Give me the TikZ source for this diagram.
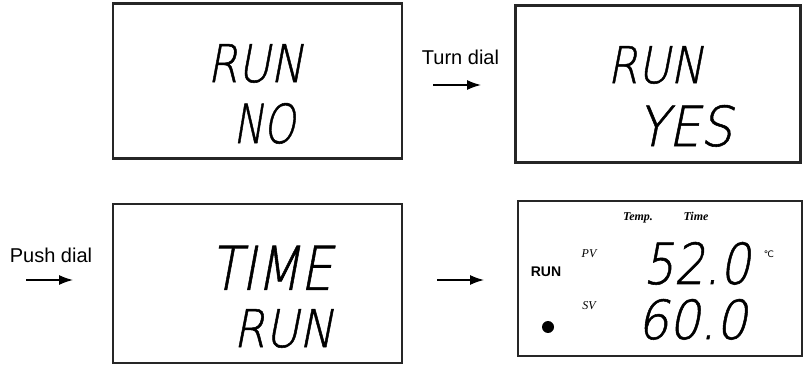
\documentclass[tikz,border=0pt]{standalone}
\usepackage{fontspec}
\usepackage{graphicx}
\usetikzlibrary{arrows.meta}
\setmainfont{Liberation Sans}
\newfontfamily\lcdfont{DejaVu Sans ExtraLight}[FakeSlant=0.22,FakeBold=1]
\newfontfamily\serifit{Liberation Serif}
\newfontfamily\symfont{DejaVu Sans}
\newcommand{\lcd}[3]{\resizebox{#1}{#2}{\lcdfont #3}}
\tikzset{
  lcdbox/.style={draw=black!85, line width=2.4pt, rectangle, inner sep=0pt},
  lab/.style={font=\fontsize{20}{22}\selectfont, inner sep=0pt},
  lcdtxt/.style={inner sep=0pt, anchor=south west},
  flow/.style={line width=1.4pt, -{Latex[length=14pt,width=10pt]}},
  tiny/.style={inner sep=0pt, anchor=base, font=\serifit\bfseries\itshape\fontsize{12}{13}\selectfont},
  tinyi/.style={inner sep=0pt, font=\serifit\itshape\fontsize{12}{13}\selectfont}
}
\begin{document}
\begin{tikzpicture}[x=1pt,y=-1pt]
\useasboundingbox[fill=white] (0,0) rectangle (804,366);
% boxes
\node[lcdbox, minimum width=289pt, minimum height=155pt] (b1) at (257.5,81) {};
\node[lcdbox, minimum width=285pt, minimum height=157pt] (b2) at (658,84) {};
\node[lcdbox, minimum width=289pt, minimum height=159pt] (b3) at (257.5,283.5) {};
\node[lcdbox, minimum width=284pt, minimum height=155pt] (b4) at (660,278.5) {};
% box 1
\node[lcdtxt] (t1a) at (207,83) {\lcd{96pt}{38pt}{RUN}};
\node[lcdtxt] (t1b) at (233,144) {\lcd{62pt}{40pt}{NO}};
% box 2
\node[lcdtxt] (t2a) at (607,84) {\lcd{96pt}{37pt}{RUN}};
\node[lcdtxt] (t2b) at (637,147) {\lcd{95pt}{41pt}{YES}};
% box 3
\node[lcdtxt] (t3a) at (210,290) {\lcd{122pt}{44pt}{TIME}};
\node[lcdtxt] (t3b) at (233,348) {\lcd{100pt}{38pt}{RUN}};
% box 4
\node[tiny] (temp) at (638,221) {Temp.};
\node[tiny] (time) at (696,221) {Time};
\node[tinyi] (pv) at (589,254) {PV};
\node[tinyi] (sv) at (589,306) {SV};
\node[inner sep=0pt, font=\bfseries\fontsize{14}{15}\selectfont] (run) at (546,272) {RUN};
\node[circle, fill=black, minimum size=12pt, inner sep=0pt] (dot) at (548,327) {};
\node[lcdtxt] (pvv) at (643,285) {\lcd{107pt}{42pt}{52.0}};
\node[lcdtxt] (svv) at (637,340) {\lcd{110pt}{40pt}{60.0}};
\node[inner sep=0pt, font=\symfont\fontsize{9}{10}\selectfont] (deg) at (769,254) {℃};
% arrows and labels
\node[lab] (turn) at (460.5,57) {Turn dial};
\coordinate (a1s) at (433,85);
\coordinate (a1e) at (481,85);
\draw[flow] (a1s) -- (a1e);
\node[lab] (push) at (51,255) {Push dial};
\coordinate (a2s) at (26,280);
\coordinate (a2e) at (73,280);
\draw[flow] (a2s) -- (a2e);
\coordinate (a3s) at (437,280);
\coordinate (a3e) at (484,280);
\draw[flow] (a3s) -- (a3e);
\end{tikzpicture}
\end{document}
